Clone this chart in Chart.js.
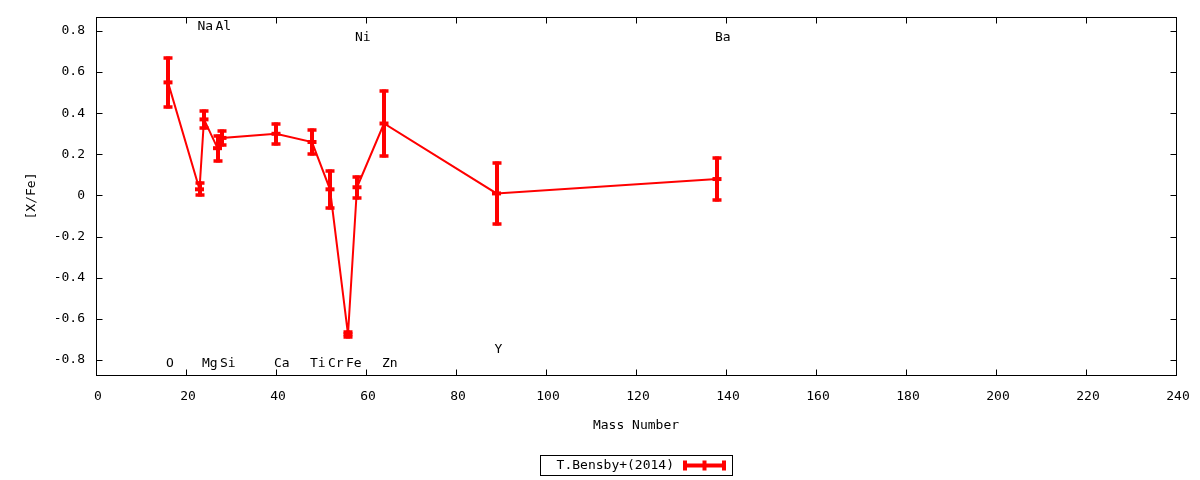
<!DOCTYPE html>
<html>
<head>
<meta charset="utf-8">
<script src="https://cdn.jsdelivr.net/npm/chart.js@4.4.1/dist/chart.umd.min.js"></script>
<style>
  html, body { margin: 0; padding: 0; background: #fff; }
  #wrap { width: 1200px; height: 480px; }
</style>
</head>
<body>
<div id="wrap"><canvas id="abundanceChart" width="1200" height="480"></canvas></div>
<script>
// [X/Fe] vs mass number, T.Bensby+(2014)
const elements   = ['O', 'Na', 'Mg', 'Al', 'Si', 'Ca', 'Ti', 'Cr', 'Fe', 'Ni', 'Zn', 'Y', 'Ba'];
const massNumber = [16, 23, 24, 27, 28, 40, 48, 52, 56, 58, 64, 89, 138];
const xFe        = [0.55, 0.03, 0.37, 0.23, 0.28, 0.30, 0.26, 0.03, -0.675, 0.04, 0.35, 0.01, 0.08];
const xFeErr     = [0.12, 0.03, 0.04, 0.06, 0.035, 0.05, 0.06, 0.09, 0.012, 0.05, 0.16, 0.15, 0.10];
// height at which each element name is written
const labelY     = [-0.82, 0.82, -0.82, 0.82, -0.82, -0.82, -0.82, -0.82, -0.82, 0.77, -0.82, -0.75, 0.77];

const xTicks      = [0, 20, 40, 60, 80, 100, 120, 140, 160, 180, 200, 220, 240];
const xTickLabels = ['0', '20', '40', '60', '80', '100', '120', '140', '160', '180', '200', '220', '240'];
const yTicks      = [-0.8, -0.6, -0.4, -0.2, 0, 0.2, 0.4, 0.6, 0.8];
const yTickLabels = ['-0.8', '-0.6', '-0.4', '-0.2', '0', '0.2', '0.4', '0.6', '0.8'];

const seriesName = 'T.Bensby+(2014)';
const RED = '#ff0000';
const FONT = '"DejaVu Sans Mono", monospace';

// gnuplot-like extras: error bars, inner ticks, frame, element names, boxed key
const gnuplotLook = {
    id: 'gnuplotLook',
    afterDatasetsDraw(chart) {
        const { ctx, chartArea: a, scales: { x, y } } = chart;
        ctx.save();
        ctx.beginPath();
        ctx.rect(a.left, a.top, a.right - a.left, a.bottom - a.top);
        ctx.clip();
        ctx.strokeStyle = RED;
        ctx.lineCap = 'butt';
        massNumber.forEach((m, i) => {
            const px = Math.round(x.getPixelForValue(m));
            const top = Math.round(y.getPixelForValue(xFe[i] + xFeErr[i]));
            const bot = Math.round(y.getPixelForValue(xFe[i] - xFeErr[i]));
            ctx.lineWidth = 4;
            ctx.beginPath();
            ctx.moveTo(px, top - 1.5); ctx.lineTo(px, bot + 1.5);
            ctx.stroke();
            ctx.lineWidth = 3.5;
            ctx.beginPath();
            ctx.moveTo(px - 4.5, top); ctx.lineTo(px + 4.5, top);
            ctx.moveTo(px - 4.5, bot); ctx.lineTo(px + 4.5, bot);
            ctx.stroke();
        });
        ctx.restore();
    },
    afterDraw(chart) {
        const { ctx, chartArea: a, scales: { x, y } } = chart;
        ctx.save();

        // frame + inward ticks
        ctx.strokeStyle = '#000';
        ctx.lineWidth = 1;
        const L = Math.round(a.left) + 0.5, R = Math.round(a.right) + 0.5;
        const T = Math.round(a.top) + 0.5, B = Math.round(a.bottom) + 0.5;
        ctx.strokeRect(L, T, R - L, B - T);
        ctx.beginPath();
        xTicks.forEach(v => {
            const px = Math.round(x.getPixelForValue(v)) + 0.5;
            ctx.moveTo(px, B); ctx.lineTo(px, B - 6);
            ctx.moveTo(px, T); ctx.lineTo(px, T + 6);
        });
        yTicks.forEach(v => {
            const py = Math.round(y.getPixelForValue(v)) + 0.5;
            ctx.moveTo(L, py); ctx.lineTo(L + 6, py);
            ctx.moveTo(R, py); ctx.lineTo(R - 6, py);
        });
        ctx.stroke();

        // element names
        ctx.fillStyle = '#000';
        ctx.font = '13px ' + FONT;
        ctx.textAlign = 'left';
        ctx.textBaseline = 'middle';
        elements.forEach((el, i) => {
            ctx.fillText(el, x.getPixelForValue(massNumber[i]) - 2, y.getPixelForValue(labelY[i]));
        });

        // key box
        const kx = 540.5, ky = 455.5, kw = 192, kh = 20;
        ctx.strokeRect(kx, ky, kw, kh);
        ctx.textAlign = 'right';
        ctx.fillText(seriesName, 674, ky + kh / 2);
        const sy = Math.round(ky + kh / 2) - 0.5;
        ctx.strokeStyle = RED;
        ctx.lineWidth = 4;
        ctx.beginPath();
        ctx.moveTo(683, sy); ctx.lineTo(726, sy);
        ctx.moveTo(685, sy - 5); ctx.lineTo(685, sy + 5);
        ctx.moveTo(724, sy - 5); ctx.lineTo(724, sy + 5);
        ctx.moveTo(704.5, sy - 5); ctx.lineTo(704.5, sy + 5);
        ctx.stroke();

        ctx.restore();
    }
};

new Chart(document.getElementById('abundanceChart'), {
    type: 'line',
    data: {
        datasets: [{
            label: seriesName,
            data: massNumber.map((m, i) => ({ x: m, y: xFe[i] })),
            borderColor: RED,
            backgroundColor: RED,
            borderWidth: 2,
            tension: 0,
            pointStyle: 'line',
            pointRadius: 4.5,
            pointBorderWidth: 4,
            pointBorderColor: RED
        }]
    },
    options: {
        responsive: false,
        animation: false,
        devicePixelRatio: 1,
        layout: { padding: { top: 17, right: 24, bottom: 0, left: 0 } },
        plugins: {
            legend: { display: false },
            tooltip: { enabled: false }
        },
        scales: {
            x: {
                type: 'linear',
                min: 0,
                max: 240,
                afterBuildTicks: s => { s.ticks = xTicks.map(v => ({ value: v })); },
                afterFit: s => {
                    s.height = 105;
                    s.paddingLeft = 0;
                    s.paddingRight = 0;
                },
                grid: { display: false, drawTicks: false },
                border: { display: false },
                ticks: {
                    color: '#000',
                    padding: 14,
                    labelOffset: 2,
                    maxRotation: 0,
                    font: { family: FONT, size: 13 },
                    callback: (v, i) => xTickLabels[i]
                },
                title: {
                    display: true,
                    text: 'Mass Number',
                    color: '#000',
                    font: { family: FONT, size: 13 },
                    padding: { top: 0, bottom: 47 }
                }
            },
            y: {
                type: 'linear',
                min: -0.873,
                max: 0.868,
                afterBuildTicks: s => { s.ticks = yTicks.map(v => ({ value: v })); },
                afterFit: s => {
                    s.width = 96;
                    s.paddingTop = 0;
                    s.paddingBottom = 0;
                },
                grid: { display: false, drawTicks: false },
                border: { display: false },
                ticks: {
                    color: '#000',
                    padding: 11,
                    font: { family: FONT, size: 13 },
                    callback: (v, i) => yTickLabels[i]
                },
                title: {
                    display: true,
                    text: '[X/Fe]',
                    color: '#000',
                    font: { family: FONT, size: 13 },
                    padding: { top: 24, bottom: 0 }
                }
            }
        }
    },
    plugins: [gnuplotLook]
});
</script>
</body>
</html>
